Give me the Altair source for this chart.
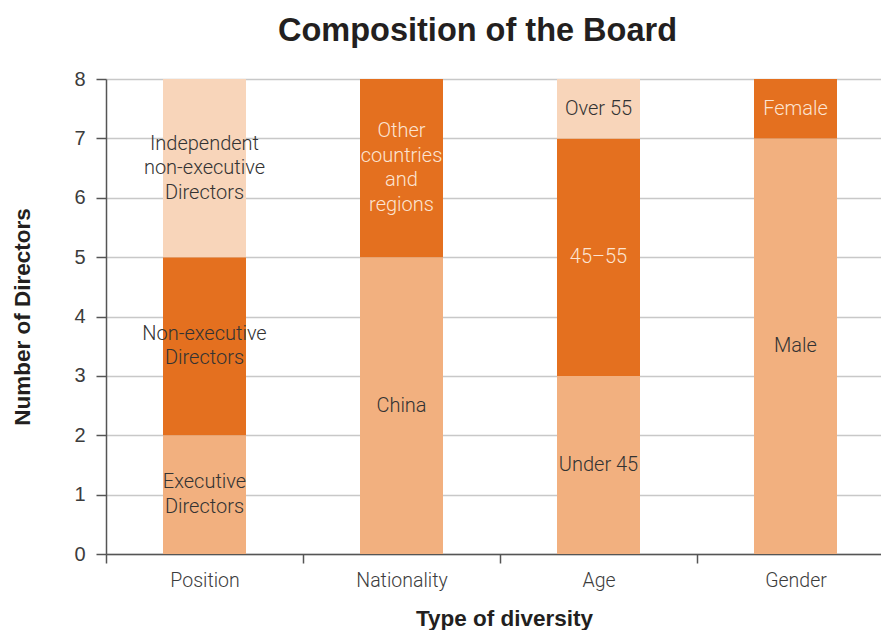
import altair as alt
import pandas as pd

# ---- data -------------------------------------------------------------
categories = ["Position", "Nationality", "Age", "Gender"]
segment_labels = [
    ["Executive\nDirectors", "Non-executive\nDirectors", "Independent\nnon-executive\nDirectors"],
    ["China", "Other\ncountries\nand\nregions"],
    ["Under 45", "45–55", "Over 55"],
    ["Male", "Female"],
]
segment_values = [
    [2, 3, 3],
    [5, 3],
    [3, 4, 1],
    [7, 1],
]
# which labels are drawn in light text
light_text = ["Other\ncountries\nand\nregions", "45–55", "Female"]

shade_names = ["first", "second", "third"]
shade_colors = ["#F2B07F", "#E4701F", "#F8D5BA"]

PLOT_H = 475
Y_MAX = 8
LINE_H = 24.5
units_per_px = Y_MAX / PLOT_H

rows = []
for cat, labs, vals in zip(categories, segment_labels, segment_values):
    start = 0
    for i, (lab, v) in enumerate(zip(labs, vals)):
        n_lines = lab.count("\n") + 1
        mid = start + v / 2
        rows.append({
            "type": cat,
            "label": lab,
            "start": start,
            "end": start + v,
            # centre the whole multi-line block on the segment's midpoint
            "label_y": mid + (n_lines - 1) * LINE_H / 2 * units_per_px,
            "shade": shade_names[i],
            "tcolor": "light" if lab in light_text else "dark",
        })
        start += v
df = pd.DataFrame(rows)

FONT = "Roboto"
x_scale = alt.Scale(domain=categories, range=[0, 788], paddingInner=0, paddingOuter=0)
y_scale = alt.Scale(domain=[0, Y_MAX], nice=False)

x_enc = alt.X(
    "type:N",
    sort=categories,
    scale=x_scale,
    axis=alt.Axis(
        title="Type of diversity",
        labelAngle=0,
        tickBand="extent",
        tickSize=9,
        tickColor="#555555",
        domainColor="#555555",
        domainWidth=1.5,
        tickWidth=1.5,
        labelFont=FONT,
        labelFontWeight=300,
        labelFontSize=19.5,
        labelColor="#3c3c3c",
        labelPadding=8,
        titleFont="Liberation Sans",
        titleFontSize=22.5,
        titleFontWeight="bold",
        titleColor="#231f20",
        titleX=398,
        titleY=64,
        titleBaseline="middle",
        titleAlign="center",
        grid=False,
    ),
)

bars = alt.Chart(df).mark_bar(size=83).encode(
    x=x_enc,
    y=alt.Y(
        "start:Q",
        scale=y_scale,
        axis=alt.Axis(
            title="Number of Directors",
            values=list(range(0, Y_MAX + 1)),
            format="d",
            tickSize=10,
            tickColor="#555555",
            tickWidth=1.5,
            domainColor="#555555",
            domainWidth=1.5,
            grid=True,
            gridColor="#c8c8c8",
            gridWidth=1.5,
            labelFont="Liberation Sans",
            labelFontSize=20,
            labelColor="#3c3c3c",
            labelPadding=11,
            titleFont="Liberation Sans",
            titleFontSize=22.5,
            titleFontWeight="bold",
            titleColor="#231f20",
            titleX=-84,
            titleY=237.5,
            titleAngle=-90,
            titleBaseline="middle",
            titleAlign="center",
        ),
    ),
    y2="end:Q",
    color=alt.Color(
        "shade:N",
        scale=alt.Scale(domain=shade_names, range=shade_colors),
        legend=None,
    ),
)

texts = alt.Chart(df).mark_text(
    font=FONT, fontWeight=300, fontSize=20, lineBreak="\n", lineHeight=LINE_H,
    baseline="middle", align="center",
).encode(
    x=alt.X("type:N", sort=categories, scale=x_scale),
    y=alt.Y("label_y:Q", scale=y_scale),
    text="label:N",
    color=alt.Color(
        "tcolor:N",
        scale=alt.Scale(domain=["dark", "light"], range=["#333333", "#FCE4D2"]),
        legend=None,
    ),
)

chart = (
    alt.layer(bars, texts)
    .resolve_scale(color="independent")
    .properties(
        width=775,
        height=PLOT_H,
        title=alt.TitleParams(
            "Composition of the Board",
            font="Liberation Sans",
            fontSize=32.5,
            fontWeight="bold",
            color="#231f20",
            anchor="middle",
            dx=-16,
            offset=22,
        ),
        autosize=alt.AutoSizeParams(type="none"),
        padding={"left": 98, "top": 71, "right": 0, "bottom": 76},
    )
    .configure_view(stroke=None)
)

chart.save("out.html", embed_options={"renderer": "svg", "actions": False})
